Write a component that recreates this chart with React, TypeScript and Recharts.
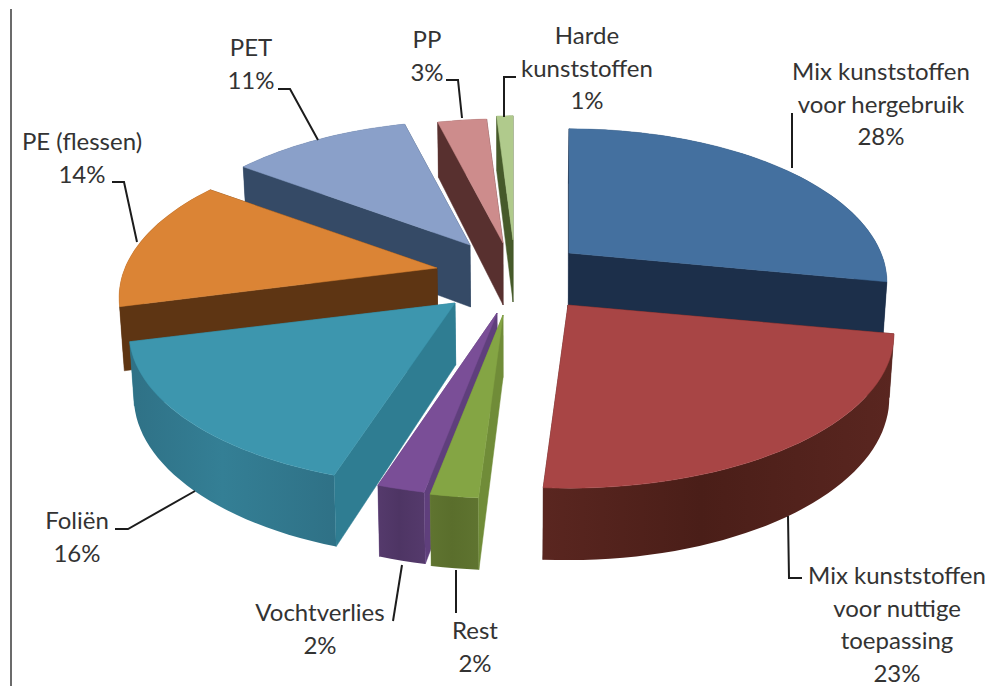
import React from "react";
import { PieChart, Pie, Cell } from "recharts";

// Draw order is back-to-front: Pie sweeps counter-clockwise starting at blue's clockwise edge.
const names = [
  "Mix kunststoffen voor hergebruik",
  "Harde kunststoffen",
  "PP",
  "PET",
  "PE (flessen)",
  "Foliën",
  "Vochtverlies",
  "Rest",
  "Mix kunststoffen voor nuttige toepassing",
];
const values = [28, 1, 3, 11, 14, 16, 2, 2, 23];
const topColors = ["#44709f", "#b0ca8c", "#cd8c8c", "#8aa0c9", "#db8435", "#3d96ae", "#7a4e97", "#84a544", "#a84545"];
const rimColors = ["#1c2f4a", "#4b5b2f", "#58302f", "#354a66", "#5e3513", "#347f95", "#4e3564", "#5a6e2c", "#4a1e18"];
const rimEdgeColors = ["#1f3450", "#5a6c38", "#683a38", "#3f5878", "#6c3f1a", "#2f7186", "#553a6c", "#5f7430", "#5a2620"];
const faceColors = ["#1c2f4a", "#465a2a", "#58302f", "#354a66", "#5e3513", "#2f7d92", "#5f3f7c", "#708c38", "#4a1e18"];

// Explosion: where each slice's apex lands on the page, and how much nearer slices grow.
const apexes: [number, number][] = [
  [569, 253], [513, 240], [503, 243], [470, 245], [437, 268], [455, 303], [497, 313], [503, 315], [568, 305],
];
const nearScale = [1, 1, 1, 1, 1, 1.025, 1.01, 1.01, 1.025];

const labelLines: string[][] = [
  ["Mix kunststoffen", "voor hergebruik"],
  ["Harde", "kunststoffen"],
  ["PP"],
  ["PET"],
  ["PE (flessen)"],
  ["Foliën"],
  ["Vochtverlies"],
  ["Rest"],
  ["Mix kunststoffen", "voor nuttige", "toepassing"],
];
const labelCenters = [881, 587, 427, 251, 82, 77, 320, 475, 897];
const labelBaselines = [80, 44, 48, 56, 150, 529, 621, 639, 584];
const leaders = [
  "792,168 792,113",
  "504,117 504,77 516,77",
  "446,80 458,80 462,118",
  "278,89 290,89 318,140",
  "112,182 124,182 137,242",
  "115,529 128,529 195,491",
  "393,621 402,565",
  "456,613 456,570",
  "788,516 789,578 802,578",
];

const chartData = names.map((name, i) => ({ name, value: values[i] }));

const CX = 510;
const CY = 280;
const R = 312;
const QR = 148;
const PERSP = 0.192;
const DEPTH = 62;
const LINE_H = 32.5;
const FONT = "Lato, 'Open Sans', sans-serif";

type Pt = [number, number];

const project = (apex: Pt, scale: number, clockDeg: number): Pt => {
  const a = (clockDeg * Math.PI) / 180;
  const u = Math.sin(a);
  const v = -Math.cos(a);
  const w = 1 - PERSP * v;
  return [apex[0] + (u * R * scale) / w, apex[1] + (v * QR) / w];
};
const drop = (p: Pt, apex: Pt): Pt => {
  const v = (p[1] - apex[1]) / QR;
  const w = 1 / (1 + PERSP * v);
  return [CX + (p[0] - CX) * 0.988, p[1] + DEPTH * Math.pow(w, -0.7)];
};
const toPath = (pts: Pt[]) =>
  "M" + pts.map((p) => `${p[0].toFixed(1)},${p[1].toFixed(1)}`).join("L") + "Z";
const cross = (a: Pt, b: Pt) => a[0] * b[1] - a[1] * b[0];

const SliceShape = (props: any) => {
  const { startAngle, endAngle, index } = props;
  const i: number = index ?? names.indexOf(props.name);
  const apex = apexes[i] as Pt;
  // Recharts angles (ccw from east) to clockwise from north.
  const a0 = 90 - Math.max(startAngle, endAngle);
  const a1 = 90 - Math.min(startAngle, endAngle);
  const arc: Pt[] = [];
  const n = Math.max(2, Math.ceil((a1 - a0) / 2));
  for (let k = 0; k <= n; k++) arc.push(project(apex, nearScale[i], a0 + ((a1 - a0) * k) / n));
  const first = arc[0];
  const last = arc[arc.length - 1];
  const mid = arc[Math.floor(n / 2)];
  const quad = (c: Pt): Pt[] => [apex, c, drop(c, apex), drop(apex, apex)];
  const rim = [...arc, ...arc.slice().reverse().map((p) => drop(p, apex))];
  const isHidden = (c: Pt) => {
    const e: Pt = [c[0] - apex[0], c[1] - apex[1]];
    const m: Pt = [mid[0] - apex[0], mid[1] - apex[1]];
    return cross(e, m) * cross(e, [0, 1]) > 0;
  };
  const faces = [first, last];
  const hidden = faces.filter(isHidden);
  const visible = faces.filter((c) => !isHidden(c));
  const gid = `rim-${i}`;
  const face = (c: Pt, key: string) => (
    <path key={key} d={toPath(quad(c))} fill={faceColors[i]} stroke={faceColors[i]} strokeWidth={0.5} />
  );
  return (
    <g>
      <defs>
        <linearGradient id={gid} x1="0" y1="0" x2="1" y2="0">
          <stop offset="0%" stopColor={rimEdgeColors[i]} />
          <stop offset="45%" stopColor={rimColors[i]} />
          <stop offset="100%" stopColor={rimEdgeColors[i]} />
        </linearGradient>
      </defs>
      {hidden.map((c, k) => face(c, `h${k}`))}
      <path d={toPath(rim)} fill={`url(#${gid})`} />
      {visible.map((c, k) => face(c, `v${k}`))}
      <path d={toPath([apex, ...arc])} fill={topColors[i]} stroke={topColors[i]} strokeWidth={0.5} />
    </g>
  );
};

const SliceLabel = (props: any) => {
  const i: number = props.index;
  const lines = [...labelLines[i], `${values[i]}%`];
  return (
    <g>
      <polyline points={leaders[i]} fill="none" stroke="#1c1c1c" strokeWidth={2} />
      <text textAnchor="middle" fontFamily={FONT} fontSize={24} fill="#333333">
        {lines.map((t, k) => (
          <tspan key={k} x={labelCenters[i]} y={labelBaselines[i] + k * LINE_H}>
            {t}
          </tspan>
        ))}
      </text>
    </g>
  );
};

export default function App() {
  return (
    <div style={{ position: "absolute", left: 0, top: 0, width: 990, height: 686, background: "#ffffff", overflow: "hidden" }}>
      <div style={{ position: "absolute", left: 10, top: 9, width: 2, height: 677, background: "#6b6b6b" }} />
      <PieChart width={990} height={686} style={{ position: "absolute", left: 0, top: 0 }}>
        <Pie
          data={chartData}
          dataKey="value"
          nameKey="name"
          cx={CX}
          cy={CY}
          outerRadius={R}
          startAngle={-10.8}
          endAngle={349.2}
          stroke="none"
          shape={SliceShape}
          label={SliceLabel}
          labelLine={false}
          isAnimationActive={false}
        >
          {chartData.map((d, i) => (
            <Cell key={d.name} fill={topColors[i]} />
          ))}
        </Pie>
      </PieChart>
    </div>
  );
}
